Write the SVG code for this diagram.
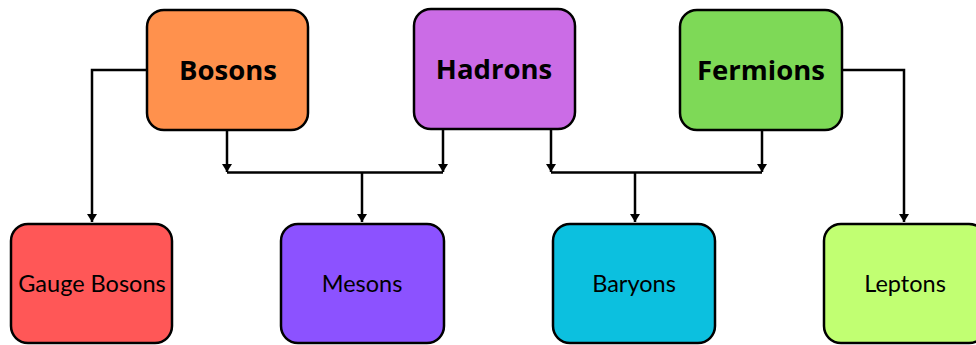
<svg xmlns="http://www.w3.org/2000/svg" width="976" height="345" viewBox="0 0 976 345">
  <defs>
    <marker id="arr" markerUnits="userSpaceOnUse" markerWidth="9" markerHeight="10" refX="8" refY="5" orient="auto" viewBox="0 0 9 10">
      <path d="M0,0 L8,5 L0,10 Z" fill="#000"/>
    </marker>
    <style>
      .box { stroke: #000; stroke-width: 2.5; }
      .top { font-family: "Open Sans", "Liberation Sans", sans-serif; font-weight: 700; font-size: 27.5px; fill: #000; text-anchor: middle; }
      .bot { font-family: "Lato", "Liberation Sans", sans-serif; font-weight: 400; font-size: 23.5px; fill: #000; text-anchor: middle; }
      .ln { fill: none; stroke: #000; stroke-width: 2.5; }
    </style>
  </defs>
  <rect width="976" height="345" fill="#fff"/>
  <g id="connectors">
    <polyline class="ln" points="147,70 92,70 92,222" marker-end="url(#arr)"/>
    <polyline class="ln" points="842,70 904,70 904,222" marker-end="url(#arr)"/>
    <line class="ln" x1="227" y1="130" x2="227" y2="172" marker-end="url(#arr)"/>
    <line class="ln" x1="443" y1="129" x2="443" y2="172" marker-end="url(#arr)"/>
    <line class="ln" x1="227" y1="172.5" x2="443" y2="172.5"/>
    <line class="ln" x1="362" y1="172.5" x2="362" y2="222" marker-end="url(#arr)"/>
    <line class="ln" x1="551" y1="129" x2="551" y2="172" marker-end="url(#arr)"/>
    <line class="ln" x1="762" y1="130" x2="762" y2="172" marker-end="url(#arr)"/>
    <line class="ln" x1="551" y1="172.5" x2="762" y2="172.5"/>
    <line class="ln" x1="635" y1="172.5" x2="635" y2="222" marker-end="url(#arr)"/>
  </g>
  <g id="bosons">
    <rect class="box" x="147" y="10" width="161" height="120" rx="17" fill="#FF914D"/>
    <text class="top" x="228" y="80">Bosons</text>
  </g>
  <g id="hadrons">
    <rect class="box" x="414" y="9" width="161" height="120" rx="17" fill="#CB6CE6"/>
    <text class="top" x="494" y="79">Hadrons</text>
  </g>
  <g id="fermions">
    <rect class="box" x="680" y="10" width="162" height="120" rx="17" fill="#7ED957"/>
    <text class="top" x="761" y="80">Fermions</text>
  </g>
  <g id="gauge-bosons">
    <rect class="box" x="11" y="224" width="161" height="119" rx="17" fill="#FF5757"/>
    <text class="bot" x="92" y="292">Gauge Bosons</text>
  </g>
  <g id="mesons">
    <rect class="box" x="281" y="224" width="163" height="119" rx="17" fill="#8C52FF"/>
    <text class="bot" x="362" y="292">Mesons</text>
  </g>
  <g id="baryons">
    <rect class="box" x="553" y="224" width="162" height="119" rx="17" fill="#0CC0DF"/>
    <text class="bot" x="634" y="292">Baryons</text>
  </g>
  <g id="leptons">
    <rect class="box" x="824" y="224" width="162" height="119" rx="17" fill="#C1FF72"/>
    <text class="bot" x="905" y="292">Leptons</text>
  </g>
</svg>
